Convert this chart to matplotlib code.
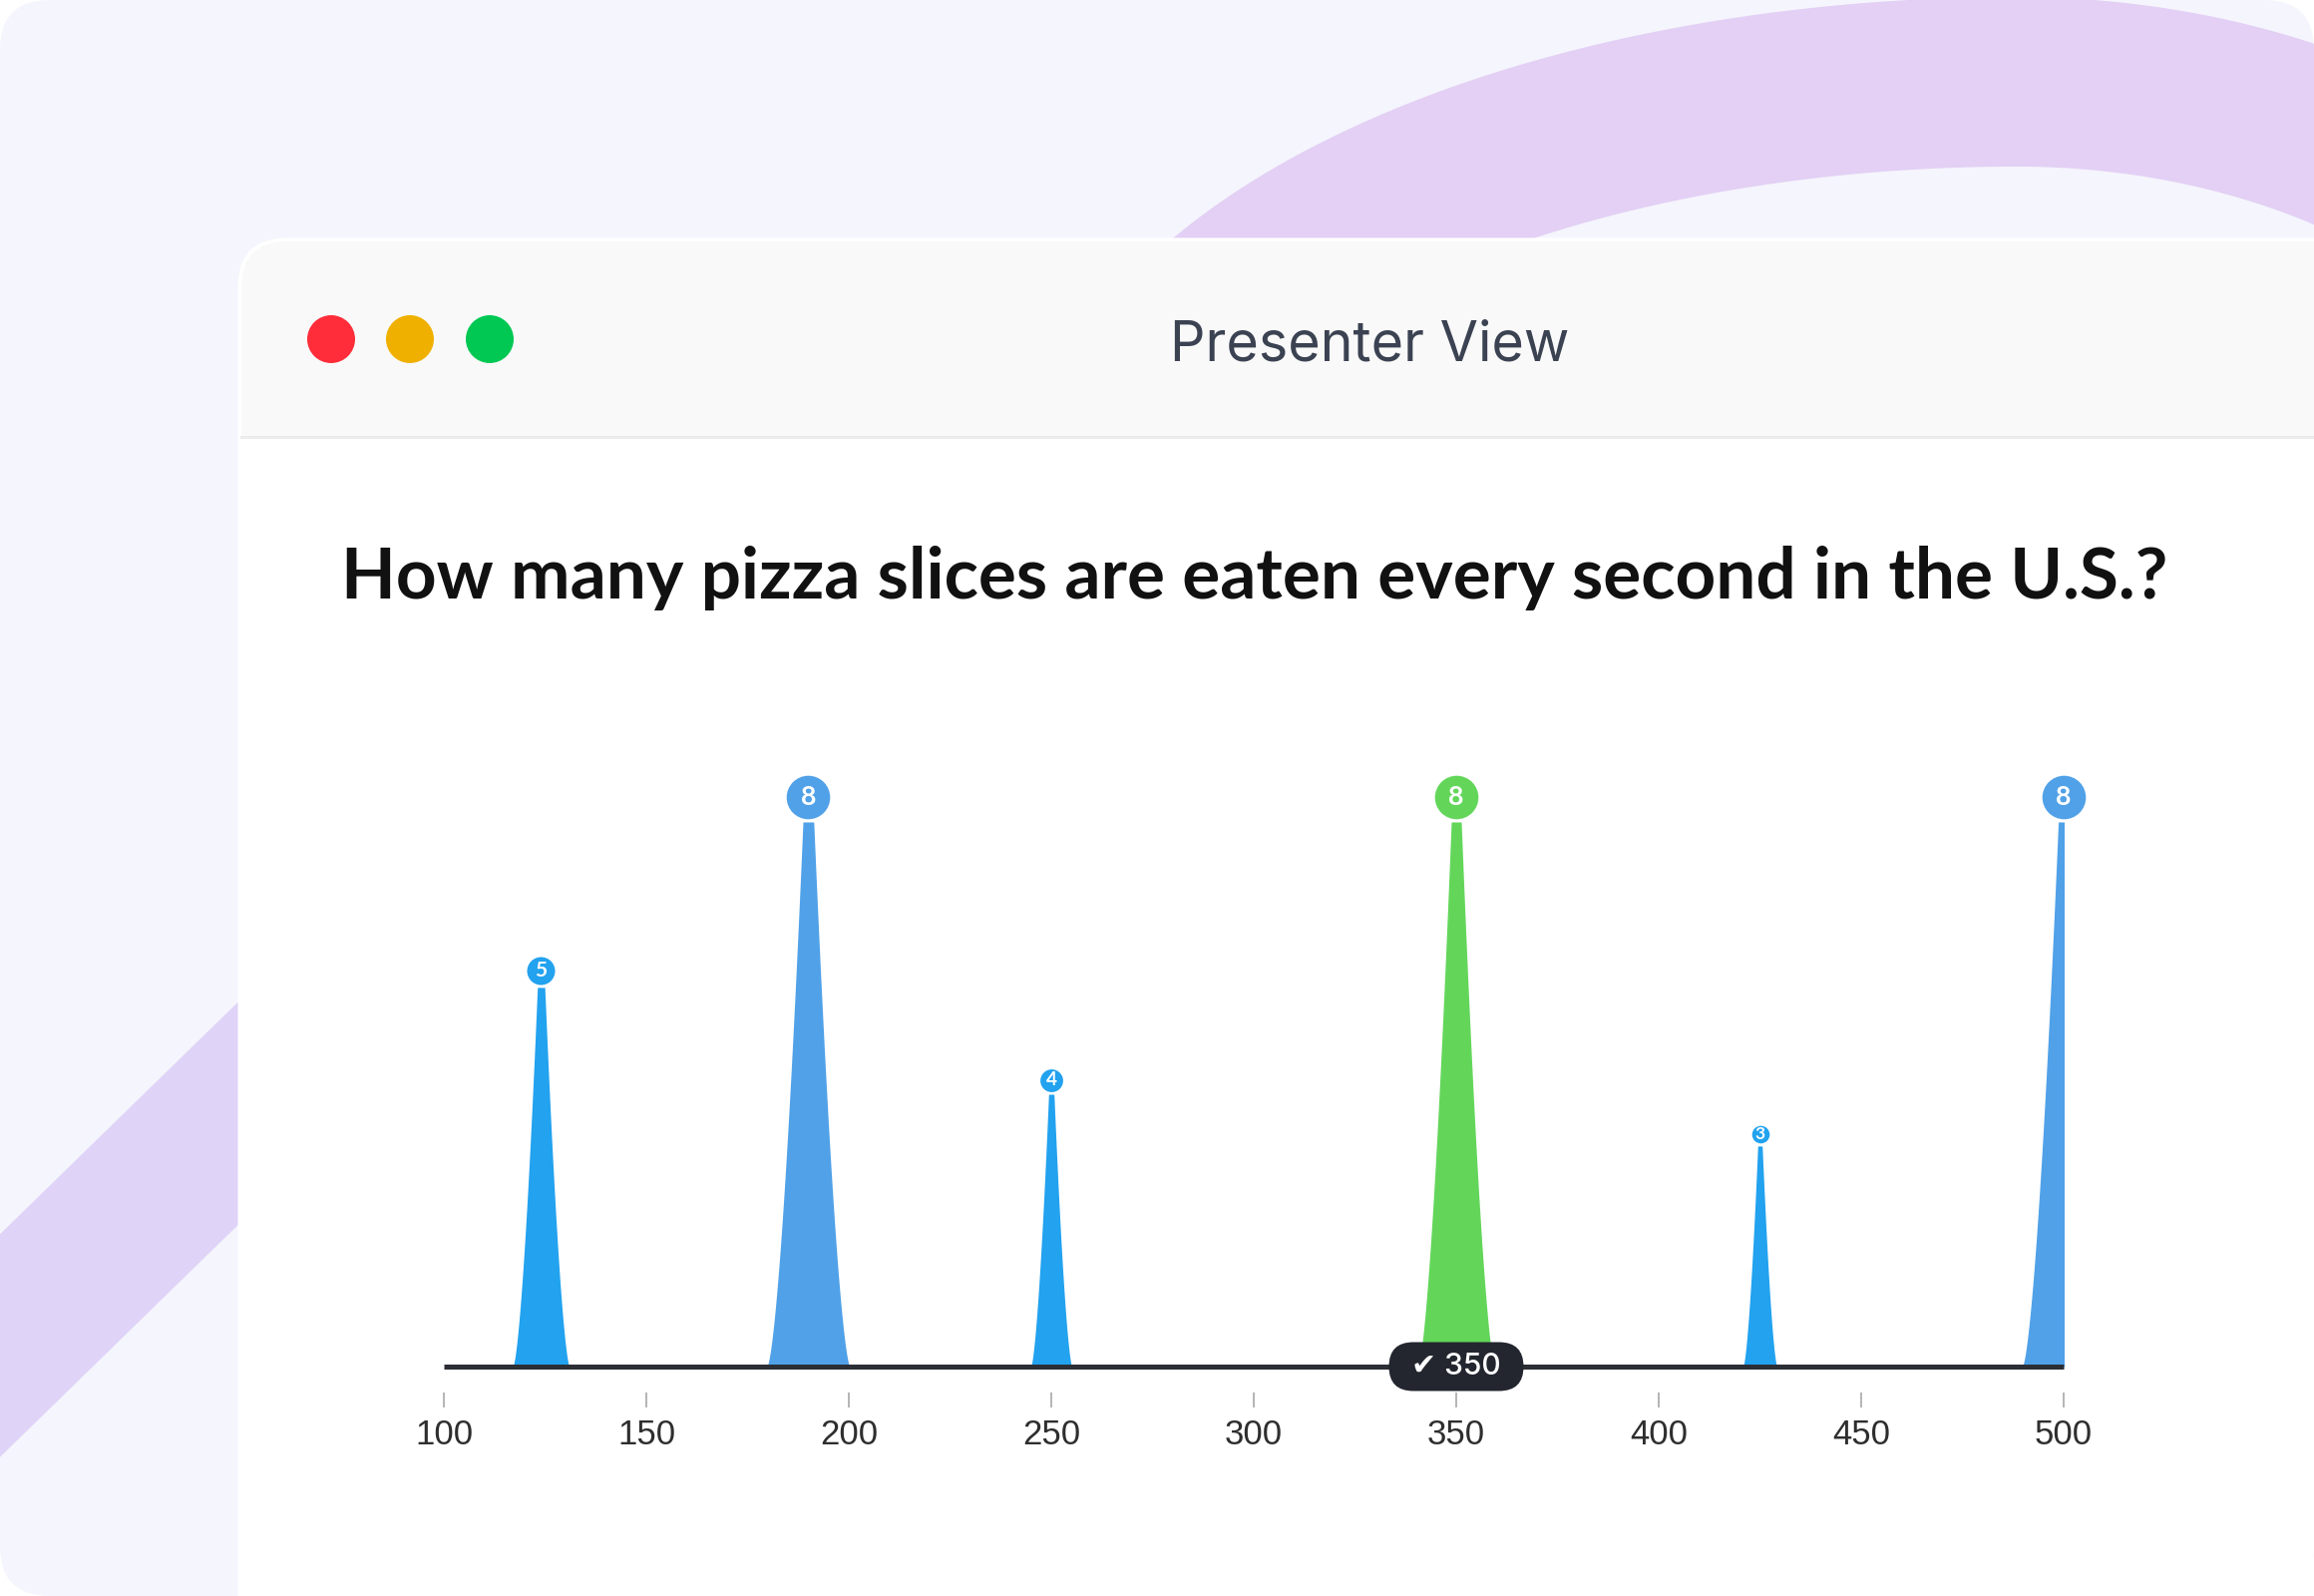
import numpy as np
import matplotlib
matplotlib.use("Agg")
import matplotlib.pyplot as plt
from matplotlib.patches import FancyBboxPatch, Circle, Rectangle, Polygon
from matplotlib.transforms import Affine2D, ScaledTranslation, offset_copy

# audience guesses and how many people picked each one
guesses = [124, 190, 250, 350, 425, 500]
votes = [5, 8, 4, 8, 3, 8]
# height and base width of each spike
peak_height = [5.57, 8.0, 4.0, 8.0, 3.24, 8.0]
peak_width = [14.0, 20.5, 10.2, 19.0, 8.4, 20.5]
correct_answer = 350
tick_values = [100, 150, 200, 250, 300, 350, 400, 450, 500]

question = "How many pizza slices are eaten every second in the U.S.?"
window_title = "Presenter View"

peak_colors = ["#22A2EF", "#50A1E8", "#22A2EF", "#63D65A", "#22A2EF", "#50A1E8"]

W, H = 2320, 1600
DPI = 200
PX = 72 / DPI  # points per pixel

plt.rcParams["font.family"] = ["Liberation Sans", "DejaVu Sans"]


def ribbon(xs, ys, width):
    # band of constant thickness around a centre line (pixel coords)
    dx = np.gradient(xs)
    dy = np.gradient(ys)
    norm = np.hypot(dx, dy)
    nx_, ny_ = -dy / norm, dx / norm
    upper = np.column_stack([xs + nx_ * width / 2, ys + ny_ * width / 2])
    lower = np.column_stack([xs - nx_ * width / 2, ys - ny_ * width / 2])
    return np.vstack([upper, lower[::-1]])


fig = plt.figure(figsize=(W / DPI, H / DPI), dpi=DPI)
fig.patch.set_facecolor("white")

# background layer in pixel coordinates (y goes down)
bg = fig.add_axes([0, 0, 1, 1])
bg.set_xlim(0, W)
bg.set_ylim(H, 0)
bg.axis("off")

frame = FancyBboxPatch((0, 0), W, H, boxstyle="round,pad=0,rounding_size=50",
                       fc="#F5F5FD", ec="none", zorder=0)
bg.add_patch(frame)

# purple ribbons behind the window
th = np.linspace(np.pi, -0.3, 500)
cx, cy, b = 2022, 532, 450
a = np.where(np.cos(th) < 0, 918, 640)
rib_x = cx + a * np.cos(th)
rib_y = cy - b * np.sin(th)
top_rib = Polygon(ribbon(rib_x, rib_y, 170), closed=True, fc="#E3D0F4", ec="none", zorder=1)
bg.add_patch(top_rib)
top_rib.set_clip_path(frame)

lx = np.linspace(-300, 420, 50)
ly = 1349 - 0.975 * lx
left_rib = Polygon(ribbon(lx, ly, 160), closed=True, fc="#DFD3F7", ec="none", zorder=1)
bg.add_patch(left_rib)
left_rib.set_clip_path(frame)

# presenter window
win = FancyBboxPatch((240, 240), W, H, boxstyle="round,pad=0,rounding_size=48",
                     fc="white", ec="white", lw=3 * PX, zorder=2)
bg.add_patch(win)
win.set_clip_path(frame)
header = FancyBboxPatch((242, 242), W, 400, boxstyle="round,pad=0,rounding_size=46",
                        fc="#F9F9F9", ec="none", zorder=3)
bg.add_patch(header)
header.set_clip_path(frame)
body = Rectangle((242, 438), W, H, fc="white", ec="none", zorder=4)
bg.add_patch(body)
body.set_clip_path(frame)
bg.plot([242, W], [438, 438], color="#ECECEC", lw=3 * PX, zorder=5)

for x, c in zip([332, 411, 491], ["#FF2C3A", "#F0B000", "#00C853"]):
    bg.add_patch(Circle((x, 340), 24, fc=c, ec="none", zorder=5))

bg.text(1373, 346, window_title, ha="center", va="center", fontsize=20,
        family="Inter", color="#3B4252", zorder=6)
bg.text(1258, 579, question, ha="center", va="center", fontsize=25.6,
        family="Lato", weight="bold", color="#111111", zorder=6)

# chart area: x axis from 100 to 500, baseline at y=0
x0, x1 = 445, 2069
base_y, top_y = 1370, 824
ax = fig.add_axes([x0 / W, 1 - base_y / H, (x1 - x0) / W, (base_y - top_y) / H])
ax.set_xlim(100, 500)
ax.set_ylim(0, 8)
ax.patch.set_alpha(0)
for s in ax.spines.values():
    s.set_visible(False)
ax.spines["bottom"].set_position(("outward", 26 * PX))
ax.set_yticks([])
ax.set_xticks(tick_values)
ax.tick_params(axis="x", direction="out", length=15 * PX, width=1.6 * PX,
               color="#A5A5A5", pad=4, labelsize=12.5, labelcolor="#2E2E2E")

for g, n, h, w, c in zip(guesses, votes, peak_height, peak_width, peak_colors):
    half = w / 2
    tip = 0.065 * w
    xs = np.linspace(g - half, g + half, 600)
    r = np.clip((np.abs(xs - g) - tip) / (half - tip), 0, 1)
    ys = h * (1 - r) ** 1.55
    ax.fill_between(xs, 0, ys, color=c, lw=0, zorder=2)

    d = 5.2 * n + 2  # bubble diameter in px
    off = offset_copy(ax.transData, fig=fig, y=(d / 2 + 3) * PX, units="points")
    ax.scatter([g], [h], s=(d * PX) ** 2, color=c, linewidths=0, transform=off,
               clip_on=False, zorder=4)
    dh = 0.2 * d + 6  # digit height in px
    ax.text(g, h, str(n), transform=off, ha="center", va="center",
            fontsize=dh / 0.55 * PX, family="Lato", weight="bold", color="white",
            clip_on=False, zorder=5)

ax.plot([100, 500], [0, 0], color="#2B2E35", lw=5 * PX, solid_capstyle="butt",
        clip_on=False, zorder=3)

# correct answer pill
pill_tr = Affine2D().scale(1 / DPI) + fig.dpi_scale_trans + ScaledTranslation(correct_answer, 0, ax.transData)
pill = FancyBboxPatch((-67.5, -24.5), 135, 49, boxstyle="round,pad=0,rounding_size=24.5",
                      fc="#23262E", ec="none", transform=pill_tr, clip_on=False, zorder=6)
ax.add_patch(pill)
ax.text(correct_answer, 0, "\u2714 " + str(correct_answer), ha="center", va="center",
        fontsize=10.8, family=["Inter", "DejaVu Sans"], weight="medium", color="white",
        clip_on=False, zorder=7)

fig.savefig("out.png", dpi=DPI)
